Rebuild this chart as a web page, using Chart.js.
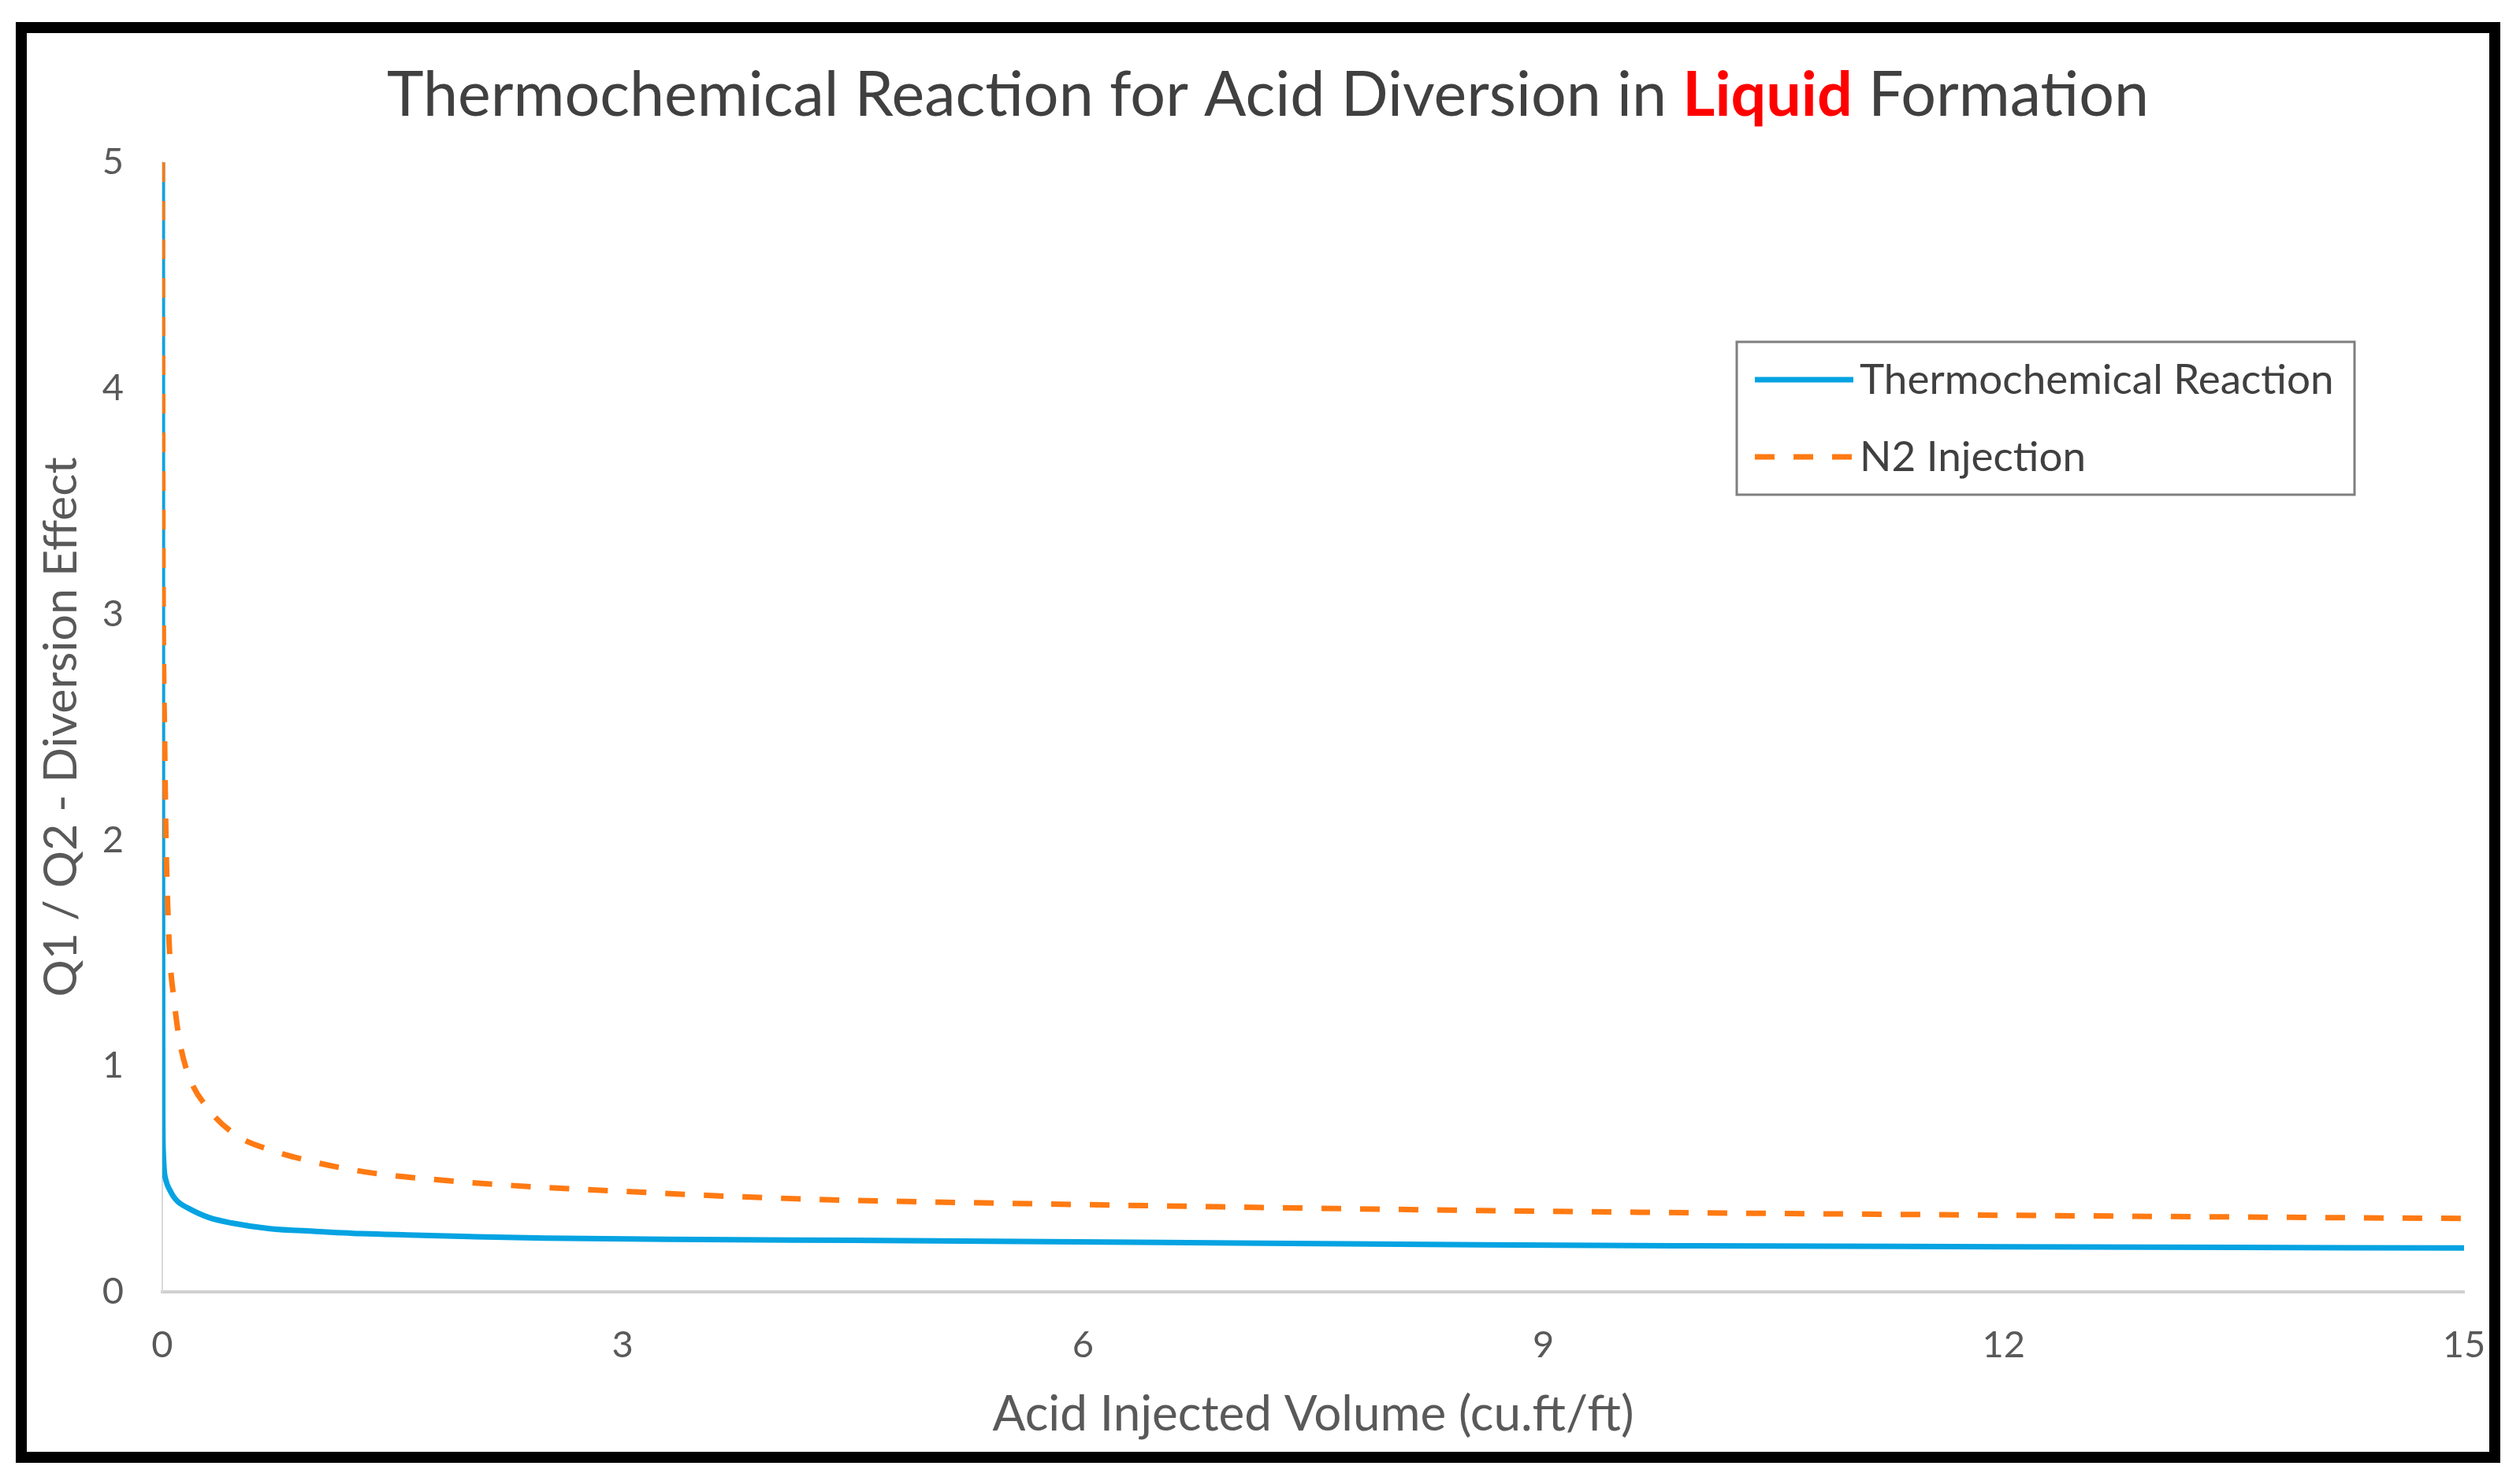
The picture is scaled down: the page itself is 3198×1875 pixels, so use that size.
<!DOCTYPE html>
<html><head><meta charset="utf-8">
<script src="https://cdn.jsdelivr.net/npm/chart.js@4.4.1/dist/chart.umd.min.js"></script>
<style>html,body{margin:0;padding:0;background:#fff;overflow:hidden}canvas{display:block}</style>
</head><body>
<canvas id="c" width="3198" height="1875"></canvas>
<script>
const titleParts = ['Thermochemical Reaction for Acid Diversion in ', 'Liquid', ' Formation'];
const titleBold = [false, true, false];
const titleColors = ['#404040', '#FF0000', '#404040'];
const xAxisTitle = 'Acid Injected Volume (cu.ft/ft)';
const yAxisTitle = 'Q1 / Q2 - Diversion Effect';
const seriesNames = ['Thermochemical Reaction', 'N2 Injection'];
const xTicks = [0, 3, 6, 9, 12, 15];
const yTicks = [0, 1, 2, 3, 4, 5];

const thermoX = [0, 0.001, 0.003, 0.006, 0.012, 0.025, 0.047, 0.07, 0.1, 0.17, 0.3, 0.45, 0.7, 1.0, 1.3, 1.6, 2.0, 2.5, 3.5, 4.5, 5.4, 7.0, 8.6, 10, 12, 13.5, 15];
const thermoY = [5, 2.0, 0.78, 0.62, 0.54, 0.49, 0.453, 0.425, 0.40, 0.37, 0.33, 0.305, 0.28, 0.268, 0.258, 0.252, 0.245, 0.238, 0.232, 0.228, 0.224, 0.216, 0.208, 0.204, 0.200, 0.197, 0.194];

const n2X = [0, 0.003, 0.0067, 0.0145, 0.024, 0.037, 0.05, 0.075, 0.11, 0.17, 0.3, 0.49, 0.72, 0.97, 1.2, 1.47, 1.73, 1.98, 2.47, 3.0, 3.73, 4.5, 5.43, 6.3, 7.13, 8.6, 10, 11.5, 13, 15];
const n2Y = [5, 3.6, 2.93, 2.47, 2.0, 1.67, 1.47, 1.30, 1.12, 0.96, 0.81, 0.69, 0.625, 0.578, 0.545, 0.517, 0.50, 0.485, 0.463, 0.445, 0.422, 0.405, 0.393, 0.383, 0.374, 0.36, 0.35, 0.342, 0.334, 0.325];

const FONT = 'Lato, "Open Sans", sans-serif';

const framePlugin = {
  id: 'frame',
  afterDraw(chart) {
    const ctx = chart.ctx;
    ctx.save();
    ctx.strokeStyle = '#000';
    ctx.lineWidth = 14;
    ctx.strokeRect(27, 35, 3139, 1815);
    ctx.restore();
  }
};

const titlePlugin = {
  id: 'richTitle',
  afterDraw(chart) {
    const ctx = chart.ctx;
    ctx.save();
    ctx.textBaseline = 'alphabetic';
    ctx.textAlign = 'left';
    const fonts = titleBold.map(b => (b ? 'bold ' : '') + '79px ' + FONT);
    let total = 0;
    const widths = titleParts.map((t, i) => { ctx.font = fonts[i]; const w = ctx.measureText(t).width; total += w; return w; });
    let x = 1609 - total / 2;
    titleParts.forEach((t, i) => {
      ctx.font = fonts[i];
      ctx.fillStyle = titleColors[i];
      ctx.fillText(t, x, 147);
      x += widths[i];
    });
    ctx.restore();
  }
};

const legendPlugin = {
  id: 'boxLegend',
  afterDraw(chart) {
    const ctx = chart.ctx;
    const box = {l: 2204, t: 434, r: 2988, b: 628};
    const rows = [482, 580];
    ctx.save();
    ctx.fillStyle = '#fff';
    ctx.fillRect(box.l, box.t, box.r - box.l, box.b - box.t);
    ctx.strokeStyle = '#7F7F7F';
    ctx.lineWidth = 3;
    ctx.strokeRect(box.l, box.t, box.r - box.l, box.b - box.t);
    chart.data.datasets.forEach((ds, i) => {
      const y = rows[i];
      ctx.beginPath();
      ctx.strokeStyle = ds.borderColor;
      ctx.lineWidth = ds.borderWidth;
      ctx.setLineDash(ds.borderDash || []);
      ctx.moveTo(2227, y);
      ctx.lineTo(2352, y);
      ctx.stroke();
      ctx.setLineDash([]);
      ctx.fillStyle = '#404040';
      ctx.font = '53px ' + FONT;
      ctx.textBaseline = 'middle';
      ctx.textAlign = 'left';
      ctx.fillText(ds.label, 2360, y + 1);
    });
    ctx.restore();
  }
};

new Chart(document.getElementById('c'), {
  type: 'line',
  data: {
    datasets: [
      {
        label: seriesNames[0],
        data: thermoX.map((x, i) => ({x, y: thermoY[i]})),
        borderColor: '#06A3E2',
        borderWidth: 7,
        pointRadius: 0,
        cubicInterpolationMode: 'monotone',
        fill: false,
        order: 1
      },
      {
        label: seriesNames[1],
        data: n2X.map((x, i) => ({x, y: n2Y[i]})),
        borderColor: '#FF7A12',
        borderWidth: 7,
        borderDash: [25, 24],
        pointRadius: 0,
        cubicInterpolationMode: 'monotone',
        fill: false,
        order: 0
      }
    ]
  },
  options: {
    responsive: false,
    devicePixelRatio: 1,
    animation: false,
    layout: {padding: {left: 0, right: 71, top: 206, bottom: 0}},
    plugins: {
      legend: {display: false},
      title: {display: false},
      tooltip: {enabled: false}
    },
    scales: {
      x: {
        type: 'linear',
        min: 0, max: 15,
        afterBuildTicks: s => { s.ticks = xTicks.map(v => ({value: v})); },
        afterFit: s => { s.height = 235; },
        grid: {display: false, drawTicks: false},
        border: {display: true, color: '#D0D0D0', width: 4},
        ticks: {padding: 40, color: '#595959', font: {family: FONT, size: 47}, maxRotation: 0},
        title: {display: true, text: xAxisTitle, color: '#595959', font: {family: FONT, size: 62}, padding: {top: 42, bottom: 42}}
      },
      y: {
        type: 'linear',
        min: 0, max: 5,
        afterBuildTicks: s => { s.ticks = yTicks.map(v => ({value: v})); },
        afterFit: s => { s.width = 206; },
        grid: {display: false, drawTicks: false},
        border: {display: true, color: '#D9D9D9', width: 2},
        ticks: {padding: 49, color: '#595959', font: {family: FONT, size: 47}},
        title: {display: true, text: yAxisTitle, color: '#595959', font: {family: FONT, size: 59}, padding: {top: 43, bottom: 43}}
      }
    }
  },
  plugins: [titlePlugin, legendPlugin, framePlugin]
});
</script>
</body></html>
